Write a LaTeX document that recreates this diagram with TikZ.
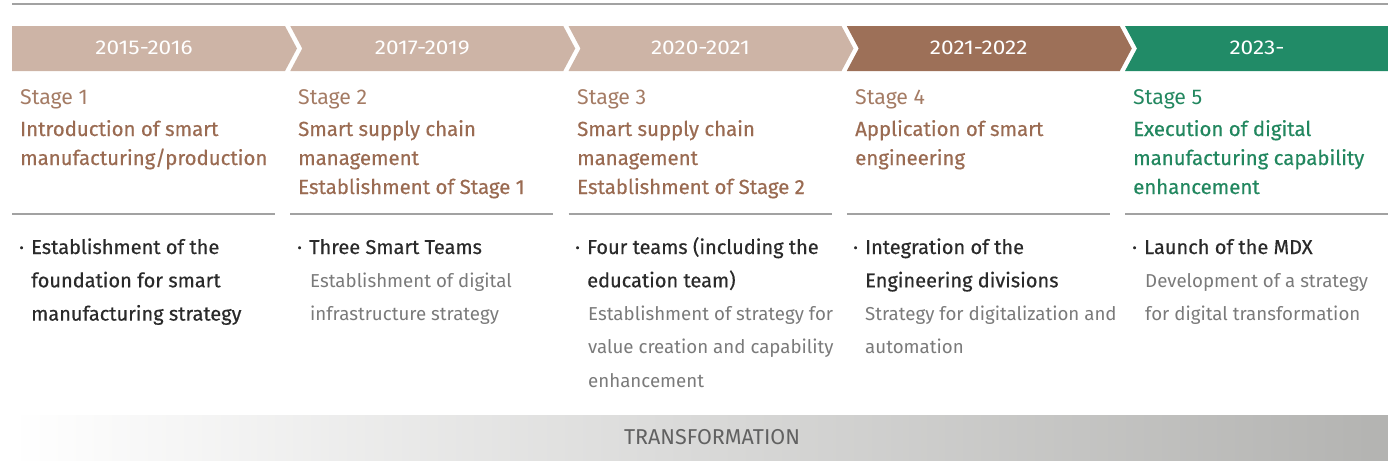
\documentclass[tikz,border=0pt]{standalone}
\usepackage{fontspec}
\setmainfont{Fira Sans}
\newfontfamily\fmed[FakeBold=0.5]{Fira Sans}
\definecolor{tanc}{HTML}{CDB4A6}
\definecolor{brownc}{HTML}{9D7058}
\definecolor{greenc}{HTML}{218B67}
\definecolor{stbrown}{HTML}{A47B64}
\definecolor{ttbrown}{HTML}{9A6B52}
\definecolor{ttgreen}{HTML}{22875F}
\definecolor{darkc}{HTML}{2A2A2A}
\definecolor{subc}{HTML}{7A7A7A}
\definecolor{rulec}{HTML}{A2A2A2}
\definecolor{bandr}{HTML}{B3B3B1}
\tikzset{
  yearlbl/.style={text=white,font=\fontsize{20}{20}\selectfont,inner sep=0pt,anchor=base},
  stagelbl/.style={font=\fontsize{21.3}{21}\selectfont,inner sep=0pt,anchor=base west},
  titlelbl/.style={font=\fmed\fontsize{20.4}{20}\selectfont,inner sep=0pt,anchor=base west},
  mainlbl/.style={text=darkc,font=\fmed\fontsize{20}{20}\selectfont,inner sep=0pt,anchor=base west},
  sublbl/.style={text=subc,font=\fontsize{18.7}{19}\selectfont,inner sep=0pt,anchor=base west},
  rulel/.style={draw=rulec,line width=1.6pt},
}
\newcommand\tline[4]{\node[#2] (#1) at #3 {#4};}
\newcommand\yr[1]{\scalebox{1.13}[1]{#1}}
\begin{document}
\begin{tikzpicture}[x=1pt,y=-1pt]
\useasboundingbox (0,0) rectangle (1388,474);
% top rule
\draw[draw=rulec,line width=1.2pt] (12,4) -- (1388,4);
% chevrons
\fill[tanc] (12,26) -- (285,26) -- (297,48.5) -- (285,71) -- (12,71) -- cycle;
\foreach \i/\c in {1/tanc,2/tanc,3/brownc}{
  \pgfmathsetmacro\xl{12+278.25*\i}
  \fill[\c] (\xl,26) -- (\xl+273,26) -- (\xl+285,48.5) -- (\xl+273,71) -- (\xl,71) -- (\xl+12,48.5) -- cycle;
}
\fill[greenc] (1125,26) -- (1388,26) -- (1388,71) -- (1125,71) -- (1137,48.5) -- cycle;
% year labels
\node[yearlbl] (y1) at (144,54.8) {\yr{2015-2016}};
\node[yearlbl] (y2) at (422.25,54.8) {\yr{2017-2019}};
\node[yearlbl] (y3) at (700.5,54.8) {\yr{2020-2021}};
\node[yearlbl] (y4) at (978.75,54.8) {\yr{2021-2022}};
\node[yearlbl] (y5) at (1257,54.8) {\yr{2023-}};
% column dividers
\foreach \i in {0,1,2,3}{
  \pgfmathsetmacro\xl{12+278.25*\i}
  \draw[rulel] (\xl,214) -- (\xl+263,214);
}
\draw[rulel] (1125,214) -- (1388,214);
% column 1
\tline{c1s}{stagelbl,text=stbrown}{(20,104.5)}{Stage 1}
\tline{c1t1}{titlelbl,text=ttbrown}{(20,136)}{Introduction of smart}
\tline{c1t2}{titlelbl,text=ttbrown}{(20,165)}{manufacturing/production}
\tline{c1d}{mainlbl}{(19,254)}{·}
\tline{c1m1}{mainlbl}{(31,254)}{Establishment of the}
\tline{c1m2}{mainlbl}{(31,287.3)}{foundation for smart}
\tline{c1m3}{mainlbl}{(31,320.6)}{manufacturing strategy}
% column 2
\tline{c2s}{stagelbl,text=stbrown}{(298,104.5)}{Stage 2}
\tline{c2t1}{titlelbl,text=ttbrown}{(298,136)}{Smart supply chain}
\tline{c2t2}{titlelbl,text=ttbrown}{(298,165)}{management}
\tline{c2t3}{titlelbl,text=ttbrown}{(298,194)}{Establishment of Stage 1}
\tline{c2d}{mainlbl}{(297,254)}{·}
\tline{c2m1}{mainlbl}{(309,254)}{Three Smart Teams}
\tline{c2u1}{sublbl}{(310,287.3)}{Establishment of digital}
\tline{c2u2}{sublbl}{(310,320.6)}{infrastructure strategy}
% column 3
\tline{c3s}{stagelbl,text=stbrown}{(577,104.5)}{Stage 3}
\tline{c3t1}{titlelbl,text=ttbrown}{(577,136)}{Smart supply chain}
\tline{c3t2}{titlelbl,text=ttbrown}{(577,165)}{management}
\tline{c3t3}{titlelbl,text=ttbrown}{(577,194)}{Establishment of Stage 2}
\tline{c3d}{mainlbl}{(575,254)}{·}
\tline{c3m1}{mainlbl}{(587,254)}{Four teams (including the}
\tline{c3m2}{mainlbl}{(587,287.3)}{education team)}
\tline{c3u1}{sublbl}{(588,320.6)}{Establishment of strategy for}
\tline{c3u2}{sublbl}{(588,353.9)}{value creation and capability}
\tline{c3u3}{sublbl}{(588,387.2)}{enhancement}
% column 4
\tline{c4s}{stagelbl,text=stbrown}{(855,104.5)}{Stage 4}
\tline{c4t1}{titlelbl,text=ttbrown}{(855,136)}{Application of smart}
\tline{c4t2}{titlelbl,text=ttbrown}{(855,165)}{engineering}
\tline{c4d}{mainlbl}{(853,254)}{·}
\tline{c4m1}{mainlbl}{(865,254)}{Integration of the}
\tline{c4m2}{mainlbl}{(865,287.3)}{Engineering divisions}
\tline{c4u1}{sublbl}{(865,320.6)}{Strategy for digitalization and}
\tline{c4u2}{sublbl}{(865,353.9)}{automation}
% column 5
\tline{c5s}{stagelbl,text=ttgreen}{(1133,104.5)}{Stage 5}
\tline{c5t1}{titlelbl,text=ttgreen}{(1133,136)}{Execution of digital}
\tline{c5t2}{titlelbl,text=ttgreen}{(1133,165)}{manufacturing capability}
\tline{c5t3}{titlelbl,text=ttgreen}{(1133,194)}{enhancement}
\tline{c5d}{mainlbl}{(1132,254)}{·}
\tline{c5m1}{mainlbl}{(1144,254)}{Launch of the MDX}
\tline{c5u1}{sublbl}{(1145,287.3)}{Development of a strategy}
\tline{c5u2}{sublbl}{(1145,320.6)}{for digital transformation}
% bottom band
\shade[left color=white,right color=bandr] (12,415) rectangle (1388,460);
\node[text=black!62,font=\fontsize{21.5}{21}\selectfont,inner sep=0pt] (tr) at (712,437.5) {TRANSFORMATION};
\end{tikzpicture}
\end{document}
